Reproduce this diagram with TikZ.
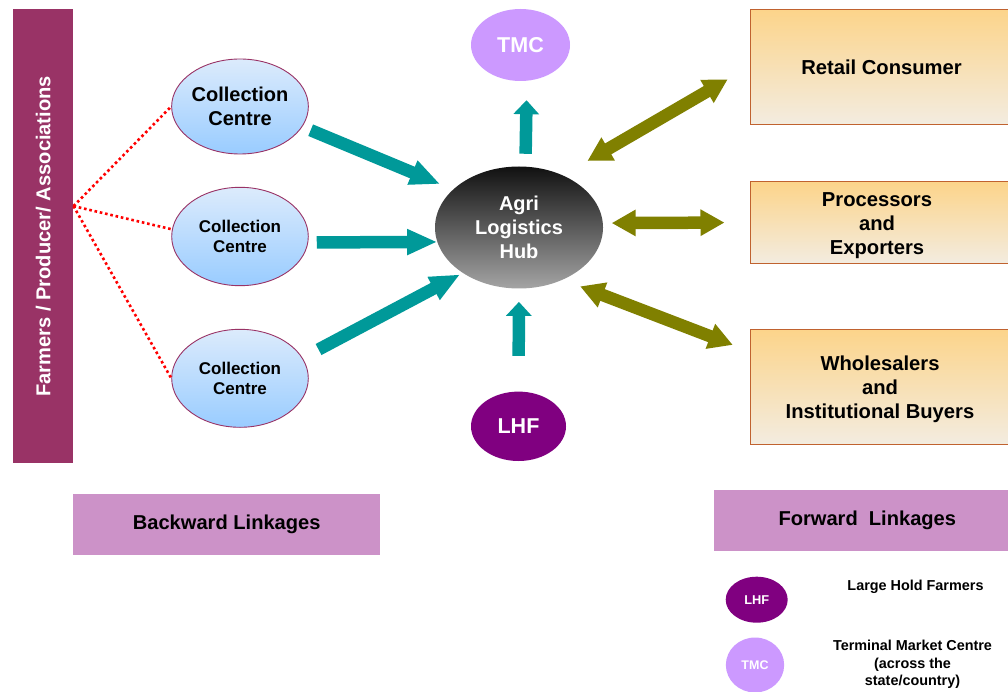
\documentclass[tikz,border=0pt]{standalone}
\usepackage{fontspec}
\setmainfont{Liberation Sans}
\usetikzlibrary{shapes.geometric,arrows.meta}
\definecolor{arrTeal}{HTML}{009999}
\definecolor{arrOlive}{HTML}{808000}
\definecolor{farmC}{HTML}{993366}
\definecolor{ccBorder}{HTML}{993366}
\definecolor{ccTop}{HTML}{DCEBFC}
\definecolor{ccBot}{HTML}{99CCFF}
\definecolor{hubTop}{HTML}{111111}
\definecolor{hubBot}{HTML}{A4A4A4}
\definecolor{tmcC}{HTML}{CC99FF}
\definecolor{lhfC}{HTML}{800080}
\definecolor{boxTop}{HTML}{FCD48A}
\definecolor{boxBot}{HTML}{F3ECE0}
\definecolor{boxBorder}{HTML}{C0622F}
\definecolor{linkC}{HTML}{CC92C8}
\begin{document}
\begin{tikzpicture}[x=1pt,y=-1pt,
  ccnode/.style={ellipse, draw=ccBorder, line width=0.9pt, top color=ccTop, bottom color=ccBot,
    inner sep=0pt, minimum width=136.6pt, align=center, text=black},
  hubnode/.style={ellipse, top color=hubTop, bottom color=hubBot, inner sep=0pt,
    minimum width=168pt, minimum height=122pt, align=center, text=white,
    font=\bfseries\fontsize{20}{24}\selectfont},
  roundnode/.style={ellipse, inner sep=0pt, text=white},
  bigbox/.style={rectangle, draw=boxBorder, line width=1pt, top color=boxTop, bottom color=boxBot,
    minimum width=263pt},
  boxtext/.style={align=center, text=black, inner sep=0pt, font=\bfseries\fontsize{20.2}{24}\selectfont},
  linkbox/.style={rectangle, fill=linkC, inner sep=0pt, minimum height=60.5pt,
    text=black, font=\bfseries\fontsize{20.1}{24}\selectfont},
  legtext/.style={align=center, text=black, font=\bfseries\fontsize{14.4}{17.5}\selectfont},
  reddots/.style={draw=red, line width=2.6pt, dash pattern=on 2.6pt off 2.8pt},
  tealarr/.style={draw=arrTeal, line width=12.5pt, -{Triangle[width=24pt,length=30pt]}},
  tealarrv/.style={draw=arrTeal, line width=12.5pt, -{Triangle[width=25pt,length=14pt]}},
  olivearr/.style={draw=arrOlive, line width=12.5pt,
    {Triangle[width=25pt,length=24pt]}-{Triangle[width=25pt,length=24pt]}}
]
\clip (0,0) rectangle (1008,692);
\fill[white] (0,0) rectangle (1008,692);

% Farmers bar
\node[rectangle, fill=farmC, inner sep=0pt, minimum width=60pt, minimum height=454.3pt] (farmers) at (43.3,236.3) {};
\node[rotate=90, text=white, font=\bfseries\fontsize{20.1}{24}\selectfont] (farmtext) at (farmers.center) {Farmers / Producer/ Associations};
\coordinate (fp) at (farmers.45.5);

% Collection centres
\node[ccnode, minimum height=95pt, font=\bfseries\fontsize{20}{23.5}\selectfont] (cc1) at (240,106.5) {Collection\\Centre};
\node[ccnode, minimum height=98.4pt, font=\bfseries\fontsize{17}{20}\selectfont] (cc2) at (240,236.5) {Collection\\Centre};
\node[ccnode, minimum height=98pt, font=\bfseries\fontsize{17}{20}\selectfont] (cc3) at (240,378.3) {Collection\\Centre};

% Hub and round nodes
\node[hubnode] (hub) at (519,227.5) {Agri\\Logistics\\Hub};
\node[roundnode, fill=tmcC, minimum width=99pt, minimum height=72pt, font=\bfseries\fontsize{21.5}{24}\selectfont] (tmc) at (520.5,45) {TMC};
\node[roundnode, fill=lhfC, minimum width=95pt, minimum height=69.4pt, font=\bfseries\fontsize{21.5}{24}\selectfont] (lhf) at (518.5,426.3) {LHF};

% Right boxes
\node[bigbox, minimum height=115.3pt] (retail) at (881.5,66.7) {};
\node[bigbox, minimum height=81.6pt] (procs) at (881.5,222.5) {};
\node[bigbox, minimum height=115.3pt] (whole) at (881.5,386.7) {};
\node[boxtext] (retailtext) at (881.5,67) {Retail Consumer};
\node[boxtext] (procstext) at (877,226) {Processors\\and\\Exporters};
\node[boxtext] (wholetext) at (880,389) {Wholesalers\\and\\Institutional Buyers};

% Linkage boxes
\node[linkbox, minimum width=306.7pt] (backlink) at (226.7,524.7) {Backward Linkages};
\node[linkbox, minimum width=306pt] (fwdlink) at (867.3,520.3) {Forward\ \ Linkages};

% Legend
\node[roundnode, fill=lhfC, minimum width=62pt, minimum height=46pt, font=\bfseries\fontsize{12.8}{15}\selectfont] (leglhf) at (756.7,599.7) {LHF};
\node[legtext] (leglhftext) at (915.5,586.7) {Large Hold Farmers};
\node[roundnode, fill=tmcC, minimum width=58.3pt, minimum height=55pt, font=\bfseries\fontsize{12.5}{15}\selectfont] (legtmc) at (755,665) {TMC};
\node[legtext] (legtmctext) at (912.5,664.3) {Terminal Market Centre\\(across the\\state/country)};

% Dotted links
\draw[reddots] (fp) -- (cc1.west);
\draw[reddots] (fp) -- (cc2.174);
\draw[reddots] (fp) -- (cc3.west);

% Teal arrows
\draw[tealarr, shorten <=9pt, shorten >=14pt] (cc1.-18) -- (hub.150);
\draw[tealarr, shorten <=8.5pt, shorten >=0pt] (cc2.-5) -- (hub.190);
\draw[tealarr, shorten <=18pt, shorten >=3pt] (cc3.18) -- (hub.219);
\draw[tealarrv, shorten <=12.7pt, shorten >=19.3pt] (hub.84) -- (tmc.-80);
\draw[tealarrv, shorten <=35.6pt, shorten >=13.2pt] (lhf.north) -- (hub.south);

% Olive double arrows
\draw[olivearr, shorten <=28.4pt, shorten >=25.2pt] (hub.50) -- (retail.west);
\draw[olivearr, shorten <=8.7pt, shorten >=25pt] (hub.3) -- (procs.west);
\draw[olivearr, shorten <=18.5pt, shorten >=17.9pt] (hub.-50) -- (whole.165);
\end{tikzpicture}
\end{document}
